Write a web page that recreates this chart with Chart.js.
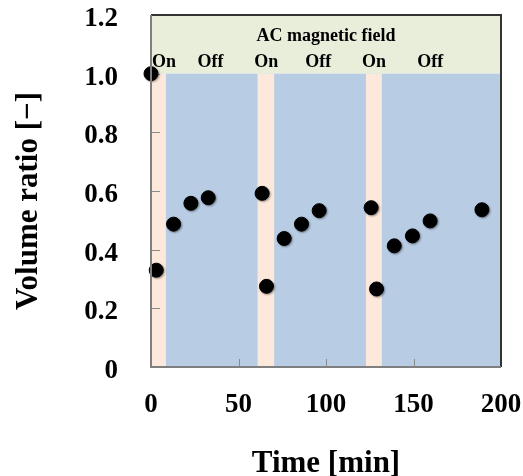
<!DOCTYPE html>
<html>
<head>
<meta charset="utf-8">
<script src="https://cdn.jsdelivr.net/npm/chart.js@4"></script>
<style>
  html, body { margin: 0; padding: 0; background: #fff; }
  #wrap { width: 523px; height: 476px; }
</style>
</head>
<body>
<div id="wrap"><canvas id="chart"></canvas></div>
<script>
// measured volume ratio vs time
const times = [0, 3, 12.9, 22.8, 32.7, 63.5, 66, 76.1, 86, 96.1, 125.8, 128.9, 139, 149.4, 159.5, 189.1];
const ratios = [1.0, 0.33, 0.487, 0.558, 0.577, 0.592, 0.275, 0.438, 0.487, 0.533, 0.543, 0.266, 0.413, 0.447, 0.498, 0.536];

// field-on periods [min]
const onStart = [0, 60.9, 122.8];
const onEnd = [8.5, 70.4, 131.9];

// header labels
const stateLabels = ["On", "Off", "On", "Off", "On", "Off"];
const stateAt = [7.5, 34, 65.8, 95.5, 127.5, 159.5];
const headerTitle = "AC magnetic field";
const yTitle = "Volume ratio [\u2212]";

const xTicks = [0, 50, 100, 150, 200];
const yTicks = [0, 0.2, 0.4, 0.6, 0.8, 1.0, 1.2];

const SERIF = '"Liberation Serif", "DejaVu Serif", serif';
const HEADER_BG = "#e9eedb";
const OFF_BG = "#b8cce4";
const ON_BG = "#fce9dc";

const bandsPlugin = {
    id: "bands",
    beforeDatasetsDraw(chart) {
        const { ctx, chartArea } = chart;
        const x = chart.scales.x;
        const y = chart.scales.y;
        const top1 = y.getPixelForValue(1.0);
        ctx.save();
        ctx.fillStyle = HEADER_BG;
        ctx.fillRect(chartArea.left, chartArea.top, chartArea.width, top1 - chartArea.top);
        ctx.fillStyle = OFF_BG;
        ctx.fillRect(chartArea.left, top1, chartArea.width, chartArea.bottom - top1);
        ctx.fillStyle = ON_BG;
        for (let i = 0; i < onStart.length; i++) {
            const a = x.getPixelForValue(onStart[i]);
            const b = x.getPixelForValue(onEnd[i]);
            ctx.fillRect(a, top1, b - a, chartArea.bottom - top1);
        }

        // inner tick marks
        ctx.strokeStyle = "#8a8a8a";
        ctx.lineWidth = 1;
        ctx.beginPath();
        xTicks.slice(1, -1).forEach((t) => {
            const px = Math.round(x.getPixelForValue(t)) + 0.5;
            ctx.moveTo(px, chartArea.bottom);
            ctx.lineTo(px, chartArea.bottom - 8);
        });
        yTicks.slice(1, -1).forEach((t) => {
            const py = Math.round(y.getPixelForValue(t)) + 0.5;
            ctx.moveTo(chartArea.left, py);
            ctx.lineTo(chartArea.left + 9, py);
        });
        ctx.stroke();

        // header text
        ctx.fillStyle = "#000";
        ctx.textAlign = "center";
        ctx.textBaseline = "middle";
        ctx.font = "bold 18px " + SERIF;
        ctx.fillText(headerTitle, (chartArea.left + chartArea.right) / 2, y.getPixelForValue(1.128));
        stateLabels.forEach((s, i) => {
            ctx.fillText(s, x.getPixelForValue(stateAt[i]), y.getPixelForValue(1.04));
        });

        // y axis title
        ctx.translate(29, 201);
        ctx.rotate(-Math.PI / 2);
        ctx.font = "bold 31px " + SERIF;
        ctx.fillText(yTitle, 0, 0);
        ctx.restore();
    },
    beforeDatasetDraw(chart) {
        const ctx = chart.ctx;
        ctx.save();
        ctx.shadowColor = "rgba(0,0,0,0.35)";
        ctx.shadowBlur = 2;
        ctx.shadowOffsetX = 1;
        ctx.shadowOffsetY = 1;
    },
    afterDatasetDraw(chart) {
        chart.ctx.restore();
    },
    afterDraw(chart) {
        const { ctx, chartArea } = chart;
        ctx.save();
        ctx.lineWidth = 2;
        ctx.strokeStyle = "#333";
        ctx.beginPath();
        ctx.moveTo(chartArea.left, chartArea.top);
        ctx.lineTo(chartArea.right, chartArea.top);
        ctx.lineTo(chartArea.right, chartArea.bottom);
        ctx.stroke();
        ctx.strokeStyle = "#7f7f7f";
        ctx.beginPath();
        ctx.moveTo(chartArea.left, chartArea.top);
        ctx.lineTo(chartArea.left, chartArea.bottom);
        ctx.lineTo(chartArea.right, chartArea.bottom);
        ctx.stroke();
        ctx.restore();
    },
};

new Chart(document.getElementById("chart"), {
    type: "scatter",
    data: {
        datasets: [
            {
                data: times.map((t, i) => ({ x: t, y: ratios[i] })),
                backgroundColor: "#000",
                borderColor: "#000",
                pointRadius: 7,
                pointHoverRadius: 7,
                clip: false,
            },
        ],
    },
    options: {
        responsive: true,
        maintainAspectRatio: false,
        animation: false,
        layout: { padding: { top: 15, right: 22, bottom: 0, left: 0 } },
        plugins: {
            legend: { display: false },
            tooltip: { enabled: false },
        },
        scales: {
            x: {
                type: "linear",
                min: 0,
                max: 200,
                afterBuildTicks: (s) => { s.ticks = xTicks.map((v) => ({ value: v })); },
                afterFit: (s) => {
                    s.height = 109;
                    s.paddingLeft = 0;
                    s.paddingRight = 0;
                },
                grid: { display: false, drawTicks: false },
                border: { display: false },
                ticks: {
                    color: "#000",
                    padding: 22,
                    maxRotation: 0,
                    font: { family: SERIF, size: 27, weight: "bold" },
                },
                title: {
                    display: true,
                    text: "Time [min]",
                    color: "#000",
                    padding: { top: 0, bottom: -7 },
                    font: { family: SERIF, size: 31, weight: "bold" },
                },
            },
            y: {
                min: 0,
                max: 1.2,
                afterBuildTicks: (s) => { s.ticks = yTicks.map((v) => ({ value: v })); },
                afterFit: (s) => {
                    s.width = 151;
                    s.paddingTop = 0;
                    s.paddingBottom = 0;
                },
                grid: { display: false, drawTicks: false },
                border: { display: false },
                ticks: {
                    color: "#000",
                    padding: 33,
                    labelOffset: 4,
                    font: { family: SERIF, size: 27, weight: "bold" },
                    callback: (v) => (v === 0 ? "0" : v.toFixed(1)),
                },
            },
        },
    },
    plugins: [bandsPlugin],
});
</script>
</body>
</html>
